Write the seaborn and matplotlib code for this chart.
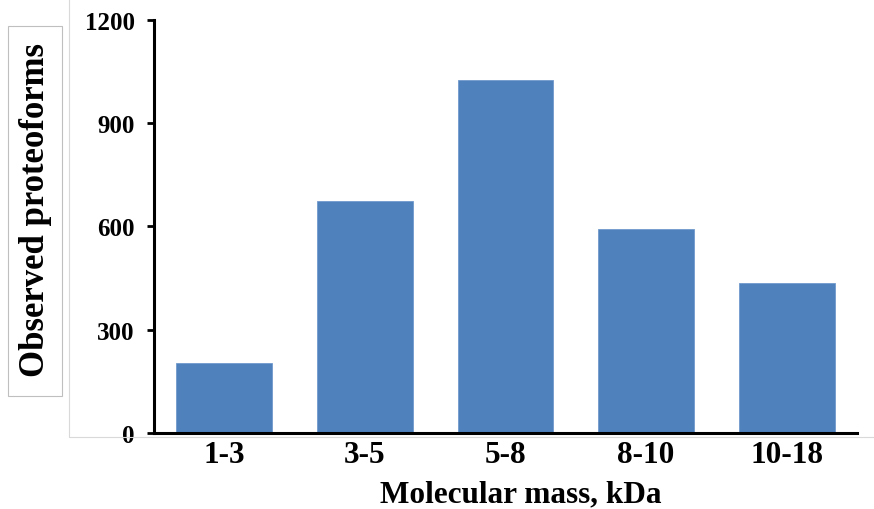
import matplotlib
matplotlib.use("Agg")
import matplotlib.pyplot as plt
import seaborn as sns
import pandas as pd
from matplotlib.patches import Rectangle
from matplotlib.lines import Line2D

categories = ["1-3", "3-5", "5-8", "8-10", "10-18"]
values = [202, 674, 1024, 592, 435]
y_ticks = [0, 300, 600, 900, 1200]

sns.set_theme(style="white")
plt.rcParams["font.family"] = ["Liberation Serif", "DejaVu Serif"]
plt.rcParams["font.weight"] = "bold"

df = pd.DataFrame({"mass": categories, "count": values})

W, H = 874, 510
fig = plt.figure(figsize=(W / 100, H / 100), dpi=100)
ax = fig.add_axes([154 / W, 1 - 434 / H, (857 - 154) / W, (434 - 20.7) / H])

sns.barplot(data=df, x="mass", y="count", color="#4F81BD", saturation=1,
            width=0.68, edgecolor="#7199cc", linewidth=0.6, ax=ax)

ax.set_xlim(-0.5, 4.5)
ax.set_ylim(0, 1200)
ax.set_yticks(y_ticks)
ax.set_yticklabels([str(t) for t in y_ticks], fontsize=18, fontweight="bold")
ax.set_xticks(range(len(categories)))
ax.set_xticklabels(categories, fontsize=22.5, fontweight="bold")

for s in ["top", "right"]:
    ax.spines[s].set_visible(False)
for s in ["left", "bottom"]:
    ax.spines[s].set_color("black")
    ax.spines[s].set_linewidth(2.2)

ax.tick_params(axis="y", direction="out", length=5, width=2, color="black",
               left=True, pad=9, labelcolor="black")
ax.tick_params(axis="x", length=0, pad=5, labelcolor="black")

ax.set_xlabel("Molecular mass, kDa", fontsize=22.5, fontweight="bold",
              color="black")
ax.xaxis.set_label_coords((521 - 154) / (857 - 154), -0.112)
ax.set_ylabel("")

# chart-area border lines (light grey)
fig.add_artist(Line2D([69 / W, 69 / W], [1, 1 - 438 / H], color="#d9d9d9", lw=0.8))
fig.add_artist(Line2D([69 / W, 1], [1 - 438 / H, 1 - 438 / H], color="#d9d9d9", lw=0.8))

# y-label box
fig.add_artist(Rectangle((8 / W, 1 - 397 / H), (62 - 8) / W, (397 - 27) / H,
                         transform=fig.transFigure, fill=False,
                         edgecolor="#bfbfbf", lw=0.8))
fig.text(36 / W, 1 - 210 / H, "Observed proteoforms", rotation=90,
         ha="center", va="center", fontsize=25, fontweight="bold", color="black")

fig.savefig("out.png", dpi=100)
